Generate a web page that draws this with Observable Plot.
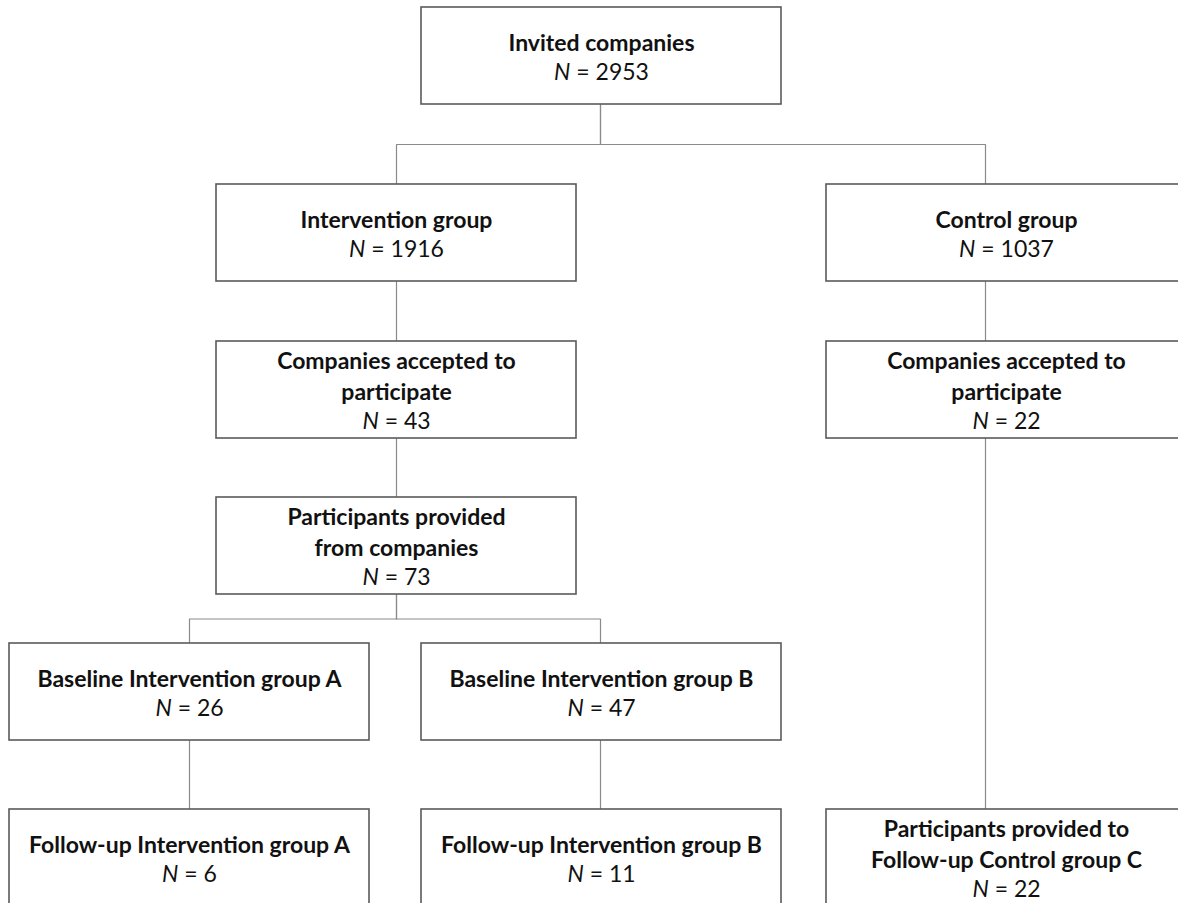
<!DOCTYPE html>
<html>
<head>
<meta charset="utf-8">
<script src="https://cdn.jsdelivr.net/npm/d3@7"></script>
<script src="https://cdn.jsdelivr.net/npm/@observablehq/plot@0.6"></script>
<style>
  html, body { margin: 0; padding: 0; background: #fff; overflow: hidden; }
  #chart svg { overflow: hidden; display: block; }
</style>
</head>
<body>
<div id="chart"></div>
<script>
// ---- data ----
const labels = [
  "Invited companies",
  "Intervention group",
  "Control group",
  "Companies accepted to\nparticipate",
  "Companies accepted to\nparticipate",
  "Participants provided\nfrom companies",
  "Baseline Intervention group A",
  "Baseline Intervention group B",
  "Follow-up Intervention group A",
  "Follow-up Intervention group B",
  "Participants provided to\nFollow-up Control group C"
];
const nValues = [2953, 1916, 1037, 43, 22, 73, 26, 47, 6, 11, 22];
const edges = [[0,1],[0,2],[1,3],[3,5],[5,6],[5,7],[6,8],[7,9],[2,4],[4,10]];

// ---- layout (flowchart grid) ----
const nodeCol = ["mid", "int", "ctl", "int", "ctl", "int", "a", "mid", "a", "mid", "ctl"];
const nodeRow = [0, 1, 1, 2, 2, 3, 4, 4, 5, 5, 5];
const colLeft = {a: 9, int: 216, mid: 421, ctl: 826};
const colLink = {a: 189, int: 396, mid: 600, ctl: 985};
const rowTop = [7, 184, 341, 497, 643, 809];
const boxW = 360, boxH = 97, lineH = 30.5, fs = 23;

const W = 1178, H = 903;

const nodes = labels.map((label, i) => {
  const x1 = colLeft[nodeCol[i]], y1 = rowTop[nodeRow[i]];
  const k = label.split("\n").length;
  const cy = y1 + boxH / 2;
  return {
    label, n: nValues[i],
    x1, x2: x1 + boxW, y1, y2: y1 + boxH,
    cx: x1 + boxW / 2, cy,
    linkX: colLink[nodeCol[i]],
    titleY: cy - lineH / 2,
    nY: cy + k * lineH / 2 + 1,
    nText: "N = " + nValues[i]
  };
});

const segs = [];
edges.forEach(([p, c], id) => {
  const P = nodes[p], C = nodes[c];
  const my = (P.y2 + C.y1) / 2;
  segs.push({id, x: P.linkX, y: P.y2});
  segs.push({id, x: P.linkX, y: my});
  segs.push({id, x: C.linkX, y: my});
  segs.push({id, x: C.linkX, y: C.y1});
});

const font = "Lato, 'Open Sans', sans-serif";

const chart = Plot.plot({
  width: W, height: H,
  margin: 0,
  x: {domain: [0, W], range: [0, W], axis: null},
  y: {domain: [0, H], range: [0, H], axis: null},
  style: {fontFamily: font, background: "#fff"},
  marks: [
    Plot.line(segs, {x: "x", y: "y", z: "id", stroke: "#8a8a8a", strokeWidth: 1.2, curve: "linear"}),
    Plot.rect(nodes, {x1: "x1", x2: "x2", y1: "y1", y2: "y2", fill: "#fff", stroke: "#5a5a5a", strokeWidth: 1.6}),
    Plot.text(nodes, {x: "cx", y: "titleY", text: "label", lineAnchor: "middle", lineHeight: lineH / fs,
      fontSize: fs, fontWeight: "bold", fill: "#111"}),
    Plot.text(nodes, {x: "cx", y: "nY", text: "nText", lineAnchor: "middle",
      fontSize: fs, fill: "#111"})
  ]
});

// italicise the "N" in the N = ... lines
d3.select(chart).selectAll("text").each(function() {
  const t = this.textContent;
  if (/^N = \d+$/.test(t)) {
    const rest = t.slice(1);
    this.textContent = "";
    const sel = d3.select(this);
    sel.append("tspan").attr("font-style", "italic").text("N");
    sel.append("tspan").text(rest);
  }
});

document.getElementById("chart").appendChild(chart);
</script>
</body>
</html>
